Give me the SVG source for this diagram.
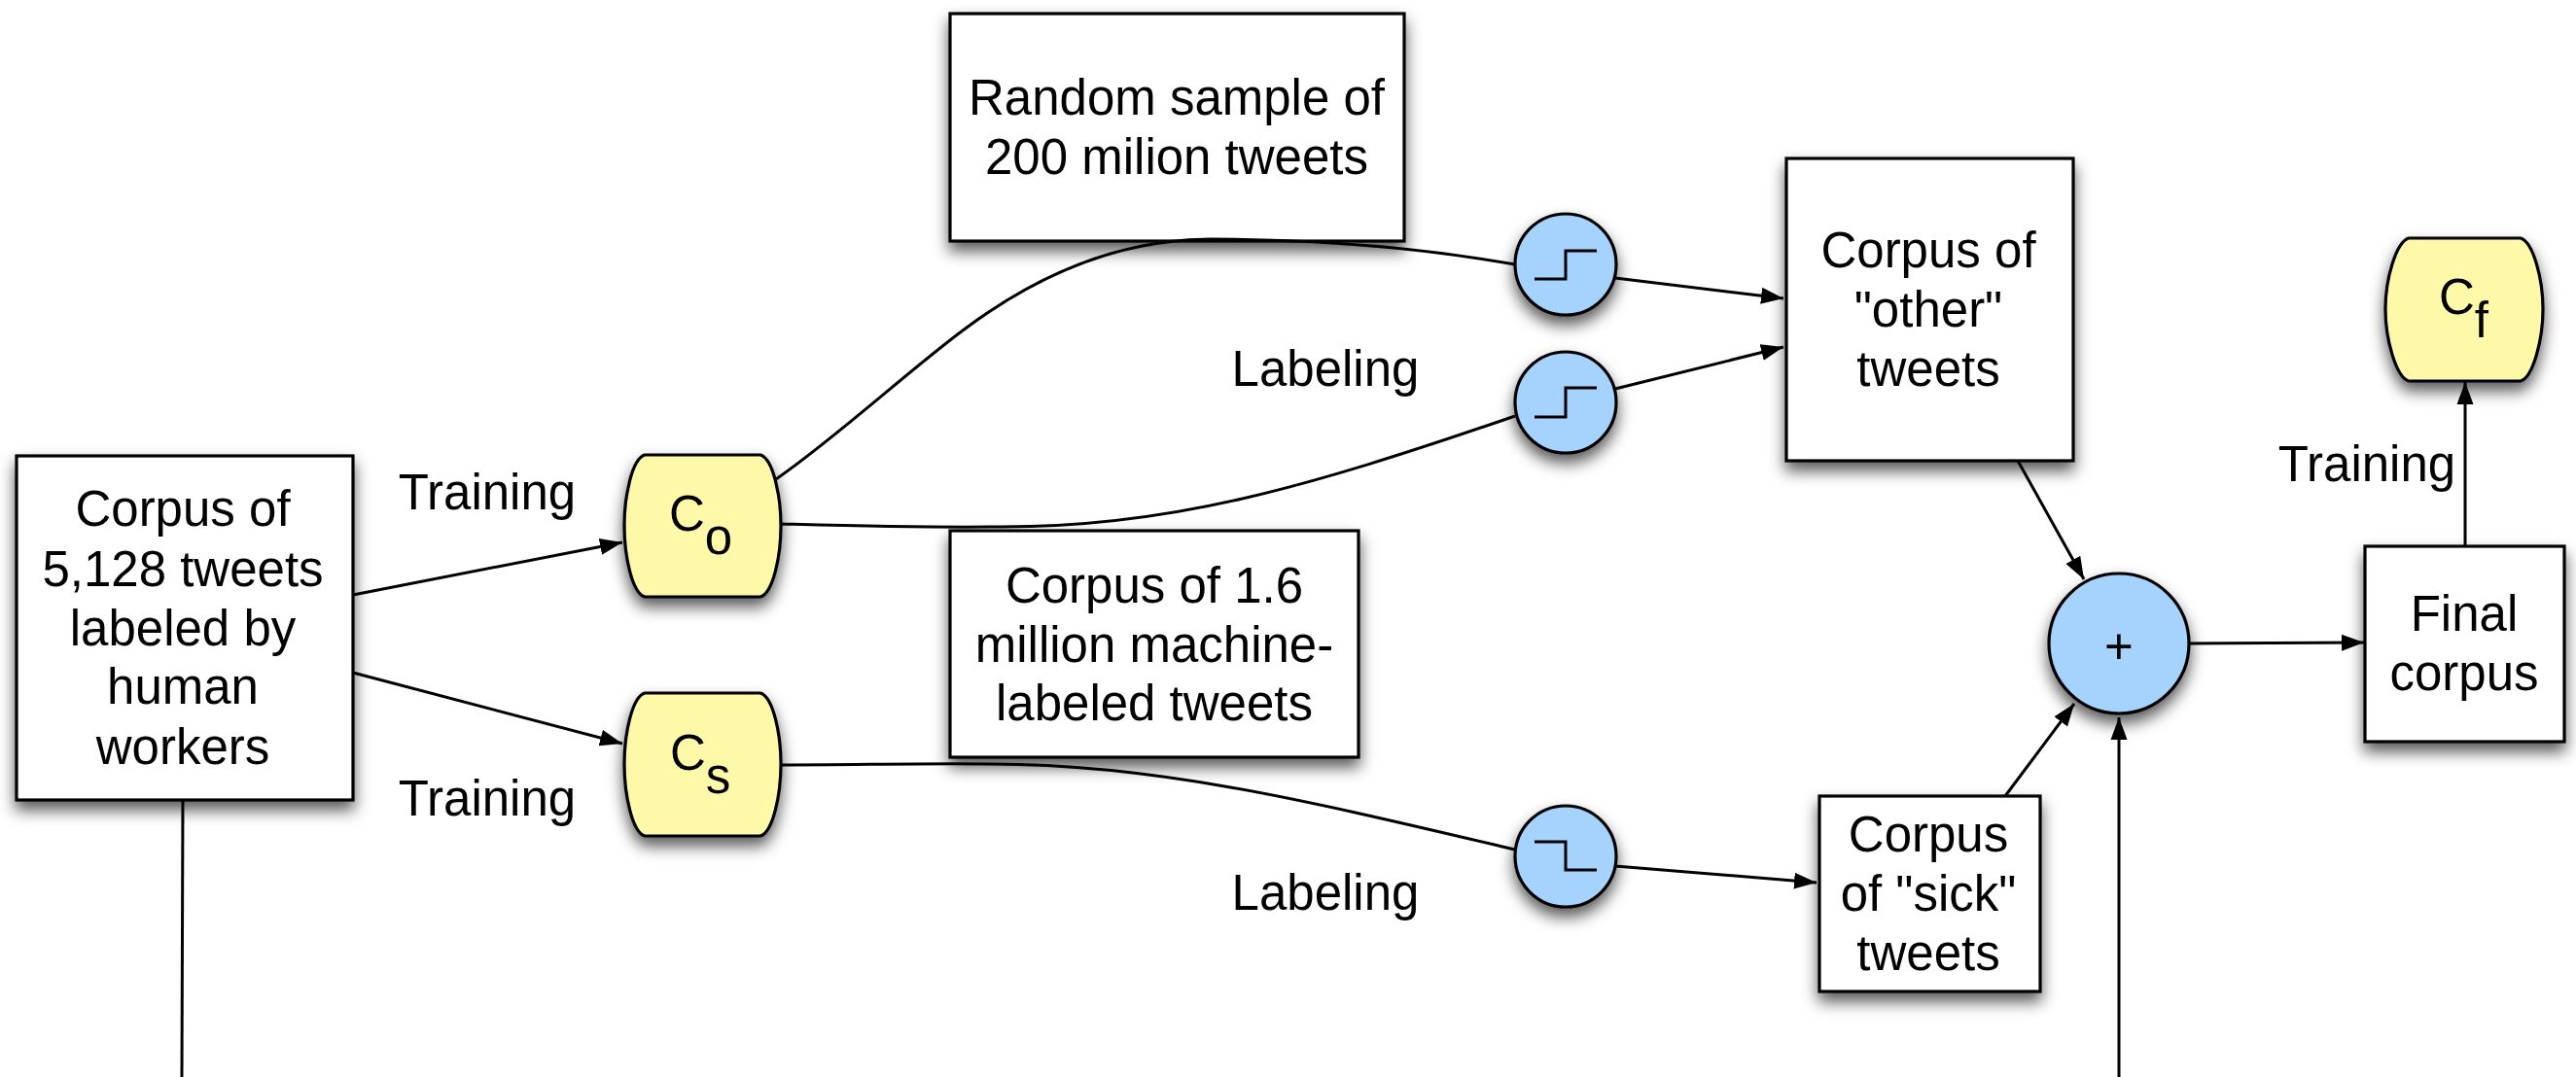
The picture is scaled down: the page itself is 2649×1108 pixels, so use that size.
<svg xmlns="http://www.w3.org/2000/svg" width="2649" height="1108" viewBox="0 0 2649 1108">
<defs>
<filter id="sh" x="-30%" y="-30%" width="160%" height="160%"><feDropShadow dx="0" dy="9" stdDeviation="8" flood-color="#000" flood-opacity="0.65"/></filter>
<marker id="arr" markerUnits="userSpaceOnUse" markerWidth="24" markerHeight="18" refX="23" refY="9" orient="auto"><path d="M0 0.5L23 9L0 17.5Z" fill="#000"/></marker>
</defs>
<style>
.b{fill:#fff;stroke:#000;stroke-width:3.2;filter:url(#sh)}
.y{fill:#fef9a9;stroke:#000;stroke-width:3.2;filter:url(#sh)}
.c{fill:#a5d3fe;stroke:#000;stroke-width:3.2;filter:url(#sh)}
.s{fill:none;stroke:#000;stroke-width:3}
.k{fill:none;stroke:#000;stroke-width:3;marker-end:url(#arr)}
text{font-family:"Liberation Sans",Arial,sans-serif;font-size:51px;fill:#000;text-anchor:middle}
text.l{text-anchor:start}
</style>
<g id="corpus-human"><rect class="b" x="17" y="469" width="346" height="354"/><text x="188" y="541">Corpus of</text><text x="188" y="603">5,128 tweets</text><text x="188" y="664">labeled by</text><text x="188" y="724">human</text><text x="188" y="786">workers</text></g>
<g id="co"><path class="y" d="M663 468H782C795 472 803 510 803 541C803 572 795 610 782 614H663C650 610 642 572 642 541C642 510 650 472 663 468Z"/><text class="l" x="688" y="546">C<tspan dy="24">o</tspan></text></g>
<g id="cs"><path class="y" d="M663 713H782C795 717 803 755 803 786C803 817 795 856 782 860H663C650 856 642 817 642 786C642 755 650 717 663 713Z"/><text class="l" x="689" y="792">C<tspan dy="24">s</tspan></text></g>
<g id="random"><rect class="b" x="977" y="14" width="467" height="234"/><text x="1210" y="118">Random sample of</text><text x="1210" y="179">200 milion tweets</text></g>
<g id="machine"><rect class="b" x="977" y="546" width="420" height="233"/><text x="1187" y="620">Corpus of 1.6</text><text x="1187" y="681">million machine-</text><text x="1187" y="741">labeled tweets</text></g>
<g id="f1"><circle class="c" cx="1610" cy="272" r="52"/><path class="s" d="M1578 287H1610V258H1642"/></g>
<g id="f2"><circle class="c" cx="1610" cy="414" r="52"/><path class="s" d="M1578 429H1610V399H1642"/></g>
<g id="f3"><circle class="c" cx="1610" cy="881" r="52"/><path class="s" d="M1578 866H1610V895H1642"/></g>
<g id="other"><rect class="b" x="1837" y="163" width="295" height="311"/><text x="1983" y="275">Corpus of</text><text x="1983" y="336">"other"</text><text x="1983" y="397">tweets</text></g>
<g id="sick"><rect class="b" x="1871" y="819" width="227" height="201"/><text x="1983" y="876">Corpus</text><text x="1983" y="937">of "sick"</text><text x="1983" y="998">tweets</text></g>
<g id="plus"><circle class="c" cx="2179" cy="662" r="72"/><text x="2179" y="683">+</text></g>
<g id="final"><rect class="b" x="2432" y="562" width="205" height="201"/><text x="2534" y="649">Final</text><text x="2534" y="710">corpus</text></g>
<g id="cf"><path class="y" d="M2477 245H2592C2605 249 2615 287 2615 318C2615 349 2605 388 2592 392H2477C2464 388 2453 349 2453 318C2453 287 2464 249 2477 245Z"/><text class="l" x="2508" y="323">C<tspan dy="24">f</tspan></text></g>
<g id="labels"><text x="501" y="524">Training</text><text x="501" y="839">Training</text><text x="1363" y="397">Labeling</text><text x="1363" y="936">Labeling</text><text x="2434" y="495">Training</text></g>
<g id="connectors">
<path class="k" d="M363 612L640 558"/>
<path class="k" d="M363 692L640 765"/>
<path class="s" d="M188 823L187 1108"/>
<path class="s" d="M798 493C860 450 930 385 990 340C1055 291 1140 246 1245 246C1350 246 1450 253 1558 272"/>
<path class="s" d="M803 539C880 541 950 543 1025 542C1200 543 1340 503 1558 428"/>
<path class="s" d="M803 787C880 787 950 785 1020 786C1190 786 1350 825 1558 874"/>
<path class="k" d="M1661 286L1834 307"/>
<path class="k" d="M1661 400L1834 357"/>
<path class="k" d="M1661 891L1868 908"/>
<path class="k" d="M2075 474L2143 596"/>
<path class="k" d="M2062 819L2133 724"/>
<path class="k" d="M2179 1108L2179 738"/>
<path class="k" d="M2251 662L2431 661"/>
<path class="k" d="M2535 562L2535 393"/>
</g>
</svg>
